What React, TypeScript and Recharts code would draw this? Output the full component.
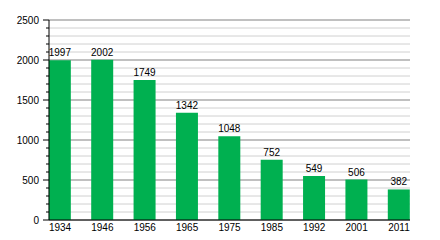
import React from "react";
import { BarChart, Bar, XAxis, YAxis, CartesianGrid, LabelList } from "recharts";

const years = ["1934", "1946", "1956", "1965", "1975", "1985", "1992", "2001", "2011"];
const population = [1997, 2002, 1749, 1342, 1048, 752, 549, 506, 382];
const yTicks = Array.from({ length: 26 }, (_, i) => i * 100);
const majorTicks = [0, 500, 1000, 1500, 2000, 2500];

const data = years.map((y, i) => ({ idx: i, year: y, value: population[i] }));

const FONT = "'Liberation Sans', Arial, Helvetica, sans-serif";

const YTick = (props: any) => {
  const { x, y, payload } = props;
  const v = payload.value as number;
  const major = v % 500 === 0;
  return (
    <g>
      <line x1={x - (major ? 6 : 3)} x2={x} y1={y} y2={y} stroke="#000" strokeWidth={1} />
      {major && (
        <text x={x - 10} y={y} dy="0.35em" textAnchor="end" fontSize={10} fill="#000" fontFamily={FONT}>
          {v}
        </text>
      )}
    </g>
  );
};

export default function App() {
  return (
    <div style={{ position: "absolute", left: 0, top: 0, width: 440, height: 240, background: "#fff" }}>
      <BarChart
        width={440}
        height={240}
        data={data}
        margin={{ top: 20, right: 30, bottom: 0, left: 0 }}
      >
        <CartesianGrid vertical={false} stroke="#d0d0d0" />
        <CartesianGrid vertical={false} horizontalValues={majorTicks} stroke="#999" />
        <XAxis
          dataKey="idx"
          type="number"
          domain={[-0.26, 8.26]}
          ticks={data.map((d) => d.idx)}
          tickFormatter={(i: number) => years[i]}
          interval={0}
          height={20}
          tickLine={false}
          tickSize={0}
          tickMargin={4}
          axisLine={{ stroke: "#000" }}
          tick={{ fontSize: 10, fill: "#000", fontFamily: FONT }}
        />
        <YAxis
          width={49}
          domain={[0, 2500]}
          ticks={yTicks}
          interval={0}
          tickLine={false}
          tickSize={0}
          tickMargin={0}
          axisLine={{ stroke: "#000" }}
          tick={<YTick />}
        />
        <Bar dataKey="value" fill="#00B050" barSize={22} isAnimationActive={false}>
          <LabelList dataKey="value" position="top" offset={4} fontSize={10} fill="#000" fontFamily={FONT} />
        </Bar>
      </BarChart>
    </div>
  );
}
